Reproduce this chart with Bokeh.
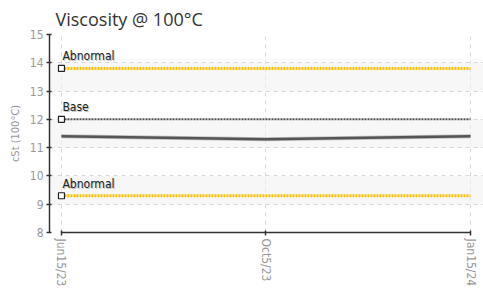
from bokeh.plotting import figure
from bokeh.models import Range1d, FixedTicker
from bokeh.core.properties import value
from bokeh.embed import file_html
from bokeh.resources import INLINE

# ---- data ----
sample_idx = [0, 1, 2, 3, 4]
viscosity = [11.4, 11.35, 11.3, 11.35, 11.4]
tick_labels = {0: "Jun15/23", 2: "Oct5/23", 4: "Jan15/24"}
limit_names = ["Abnormal", "Base", "Abnormal"]
limit_values = [13.8, 12.0, 9.3]
limit_colors = ["#FFC000", "#555555", "#FFC000"]
y_ticks = [8, 9, 10, 11, 12, 13, 14, 15]

narrow = "'DejaVu Sans Condensed', 'Liberation Sans Narrow', Roboto, sans-serif"

p = figure(frame_width=434, frame_height=198, output_backend="svg", toolbar_location=None,
           x_range=Range1d(-0.117, 4.127), y_range=Range1d(8, 15),
           min_border_left=49, min_border_right=0, min_border_top=32,
           min_border_bottom=56)
p.outline_line_color = None
p.background_fill_color = "white"

p.title.text = "Viscosity @ 100°C"
p.title.text_font = "Open Sans"
p.title.text_font_size = "18px"
p.title.text_font_style = "normal"
p.title.text_color = "#333333"
p.title.offset = 6
p.title.standoff = 8

# grids
p.xgrid.ticker = FixedTicker(ticks=list(tick_labels.keys()))
p.xgrid.grid_line_color = "#d8d8d8"
p.xgrid.grid_line_dash = "4 4"
p.ygrid.ticker = FixedTicker(ticks=y_ticks)
p.ygrid.grid_line_color = "#d8d8d8"
p.ygrid.grid_line_dash = "4 4"
p.ygrid.band_fill_color = "#f2f2f2"
p.ygrid.band_fill_alpha = 0.6

# axes
for ax in (p.xaxis[0], p.yaxis[0]):
    ax.axis_line_color = "#333333"
    ax.axis_line_width = 1.5
    ax.major_tick_line_color = "#333333"
    ax.major_tick_line_width = 1.5
    ax.major_tick_in = 2
    ax.major_tick_out = 3
    ax.minor_tick_line_color = None
    ax.major_label_text_font = narrow
    ax.major_label_text_color = "#999999"

p.yaxis.ticker = FixedTicker(ticks=y_ticks)
p.yaxis.major_label_text_font_size = "12px"
p.yaxis.major_label_standoff = 3
p.yaxis.axis_label = "cSt (100°C)"
p.yaxis.axis_label_text_font = narrow
p.yaxis.axis_label_text_font_size = "11px"
p.yaxis.axis_label_text_font_style = "normal"
p.yaxis.axis_label_text_color = "#999999"
p.yaxis.axis_label_standoff = 5

p.xaxis.ticker = FixedTicker(ticks=list(tick_labels.keys()))
p.xaxis.major_label_overrides = tick_labels
p.xaxis.major_label_orientation = "vertical"
p.xaxis.major_label_text_font_size = "12px"
p.xaxis.major_label_standoff = 3
p.xaxis.bounds = (sample_idx[0], sample_idx[-1])

# limit lines
x0, x1 = sample_idx[0], sample_idx[-1]
for name, v, c in zip(limit_names, limit_values, limit_colors):
    if c == "#FFC000":
        p.segment(x0=x0, y0=v, x1=x1, y1=v, line_color=c, line_width=3, line_dash="2 1")
    else:
        p.segment(x0=x0, y0=v, x1=x1, y1=v, line_color=c, line_width=2, line_dash="2 1")
    p.scatter(x=[x0], y=[v], marker="square", size=6, fill_color="white",
              line_color="#222222", line_width=1.2)
    p.text(x=[x0], y=[v], text=[name], text_font=value(narrow), text_font_size="12px",
           text_color="#999999", text_alpha=0.6, x_offset=2, y_offset=-4,
           text_baseline="bottom")
    p.text(x=[x0], y=[v], text=[name], text_font=value(narrow), text_font_size="12px",
           text_color="#222222", x_offset=1, y_offset=-5, text_baseline="bottom")

# data line
p.line(sample_idx, viscosity, line_color="#999999", line_width=4, line_alpha=0.6)
p.line(sample_idx, viscosity, line_color="#555555", line_width=2.5)

open("out.html", "w").write(file_html(p, INLINE))
